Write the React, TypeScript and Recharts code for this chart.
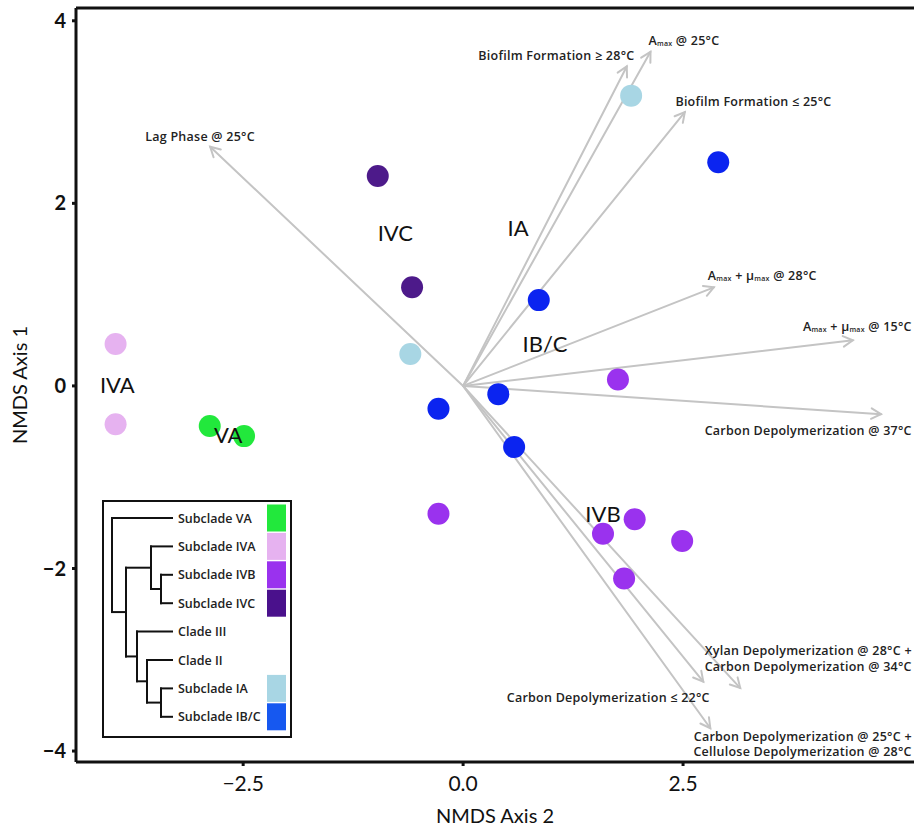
import React from "react";
import { ScatterChart, Scatter, XAxis, YAxis, ReferenceLine } from "recharts";

const W = 914;
const H = 827;
const FONT = "Lato, 'DejaVu Sans', sans-serif";
const LABEL_FONT = "'Open Sans', Lato, sans-serif";

// NMDS scores per subclade (x = NMDS axis 2, y = NMDS axis 1)
const subcladeVA = [{ x: -2.88, y: -0.44 }, { x: -2.49, y: -0.55 }];
const subcladeIVA = [{ x: -3.95, y: 0.46 }, { x: -3.95, y: -0.42 }];
const subcladeIVB = [
  { x: 1.76, y: 0.07 }, { x: -0.28, y: -1.4 }, { x: 1.95, y: -1.46 },
  { x: 1.59, y: -1.62 }, { x: 2.49, y: -1.7 }, { x: 1.83, y: -2.11 },
];
const subcladeIVC = [{ x: -0.97, y: 2.3 }, { x: -0.58, y: 1.08 }];
const subcladeIA = [{ x: 1.91, y: 3.18 }, { x: -0.6, y: 0.35 }];
const subcladeIBC = [
  { x: 2.9, y: 2.45 }, { x: 0.86, y: 0.94 }, { x: 0.4, y: -0.09 },
  { x: -0.28, y: -0.25 }, { x: 0.58, y: -0.67 },
];

// fitted trait vectors (tip coordinates)
const vectorX = [-2.875, 1.86, 2.13, 2.52, 2.85, 4.43, 4.75, 3.15, 2.73, 2.81];
const vectorY = [2.62, 3.5, 3.66, 3.0, 1.08, 0.5, -0.31, -3.31, -3.24, -3.75];

const vectorLabels = [
  { x: -2.99, y: 2.74, anchor: "middle", text: "Lag Phase @ 25°C" },
  { x: 1.06, y: 3.63, anchor: "middle", text: "Biofilm Formation ≥ 28°C" },
  { x: 2.51, y: 3.79, anchor: "middle", text: "A_{max} @ 25°C" },
  { x: 3.3, y: 3.12, anchor: "middle", text: "Biofilm Formation ≤ 25°C" },
  { x: 3.4, y: 1.22, anchor: "middle", text: "A_{max} + μ_{max} @ 28°C" },
  { x: 5.1, y: 0.66, anchor: "end", text: "A_{max} + μ_{max} @ 15°C" },
  { x: 5.1, y: -0.48, anchor: "end", text: "Carbon Depolymerization @ 37°C" },
  { x: 5.1, y: -2.98, anchor: "end", text: "Xylan Depolymerization @ 28°C +\nCarbon Depolymerization @ 34°C" },
  { x: 1.65, y: -3.41, anchor: "middle", text: "Carbon Depolymerization ≤ 22°C" },
  { x: 5.1, y: -3.92, anchor: "end", text: "Carbon Depolymerization @ 25°C +\nCellulose Depolymerization @ 28°C" },
];

const groupLabels = [
  { x: -3.93, y: 0.02, text: "IVA" },
  { x: -2.67, y: -0.53, text: "VA" },
  { x: -0.77, y: 1.68, text: "IVC" },
  { x: 0.625, y: 1.73, text: "IA" },
  { x: 0.93, y: 0.47, text: "IB/C" },
  { x: 1.59, y: -1.4, text: "IVB" },
];

const xTicks = [-2.5, 0, 2.5];
const yTicks = [-4, -2, 0, 2, 4];

// inset dendrogram
const leafNames = ["Subclade VA", "Subclade IVA", "Subclade IVB", "Subclade IVC", "Clade III", "Clade II", "Subclade IA", "Subclade IB/C"];
const leafColors = ["#22e83c", "#e6b2f0", "#9a32ee", "#4a118c", null, null, "#a8d6e4", "#1658f0"];
// merges: [left, right, height]; negative = leaf index (-(i+1)), positive = merge number (1-based)
const merges: [number, number, number][] = [
  [-3, -4, 11],
  [-2, 1, 21],
  [-7, -8, 11],
  [-6, 3, 25],
  [-5, 4, 35],
  [2, 5, 46],
  [-1, 6, 60],
];

const C = {
  VA: "#22e83c",
  IVA: "#e6b2f0",
  IVB: "#9a32ee",
  IVC: "#4d1a8a",
  IA: "#a8d6e4",
  IBC: "#0b24f0",
};

const Dot = (p: any) => <circle cx={p.cx} cy={p.cy} r={11} fill={p.fill} />;

const Arrow = (p: any) => {
  const { x1, y1, x2, y2 } = p;
  const a = Math.atan2(y2 - y1, x2 - x1);
  const L = 11;
  const s = 0.5;
  return (
    <g stroke="#c4c4c4" strokeWidth={2} fill="none" strokeLinecap="round">
      <line x1={x1} y1={y1} x2={x2} y2={y2} />
      <polyline
        points={`${x2 - L * Math.cos(a - s)},${y2 - L * Math.sin(a - s)} ${x2},${y2} ${x2 - L * Math.cos(a + s)},${y2 - L * Math.sin(a + s)}`}
      />
    </g>
  );
};

const renderRich = (line: string) => {
  const parts = line.split(/(_\{[^}]+\})/).filter(Boolean);
  let shifted = false;
  return parts.map((part, i) => {
    if (part.startsWith("_{")) {
      shifted = true;
      return (
        <tspan key={i} fontSize={7} dy={3}>
          {part.slice(2, -1)}
        </tspan>
      );
    }
    const dy = shifted ? -3 : undefined;
    shifted = false;
    return (
      <tspan key={i} dy={dy}>
        {part}
      </tspan>
    );
  });
};

const VectorLabel = (p: any) => {
  const d = p.payload;
  const lines = d.text.split("\n");
  const lh = 15.5;
  const y0 = p.cy - ((lines.length - 1) * lh) / 2;
  return (
    <g>
      {lines.map((ln: string, i: number) => (
        <text
          key={i}
          x={p.cx}
          y={y0 + i * lh}
          textAnchor={d.anchor}
          dominantBaseline="central"
          fontFamily={LABEL_FONT}
          fontSize={12.5}
          letterSpacing={0.25}
          fontWeight={600}
          fill="#222"
        >
          {renderRich(ln)}
        </text>
      ))}
    </g>
  );
};

const GroupLabel = (p: any) => (
  <text x={p.cx} y={p.cy} textAnchor="middle" dominantBaseline="central" fontFamily={FONT} fontSize={22} fill="#111">
    {p.payload.text}
  </text>
);

const fmt = (v: number) => (v < 0 ? "\u2212" + Math.abs(v) : String(v));
const fmtX = (v: number) => (v < 0 ? "\u2212" + Math.abs(v).toFixed(1) : v.toFixed(1));

function Dendrogram() {
  const left = 103, top = 501, bw = 188, bh = 236;
  const rowY = (i: number) => 518 + i * 28.4;
  const leafX = 172;
  const nodes: { x: number; y: number }[] = [];
  const segs: React.ReactNode[] = [];
  const pos = (id: number) => (id < 0 ? { x: leafX, y: rowY(-id - 1) } : nodes[id - 1]);
  merges.forEach(([a, b, h], k) => {
    const pa = pos(a);
    const pb = pos(b);
    const x = leafX - h;
    segs.push(<line key={`h1${k}`} x1={x} y1={pa.y} x2={pa.x} y2={pa.y} />);
    segs.push(<line key={`h2${k}`} x1={x} y1={pb.y} x2={pb.x} y2={pb.y} />);
    segs.push(<line key={`v${k}`} x1={x} y1={pa.y} x2={x} y2={pb.y} />);
    nodes.push({ x, y: (pa.y + pb.y) / 2 });
  });
  return (
    <svg width={W} height={H} style={{ position: "absolute", left: 0, top: 0, pointerEvents: "none" }}>
      <rect x={left} y={top} width={bw} height={bh} fill="#fff" stroke="#111" strokeWidth={2} />
      <g stroke="#111" strokeWidth={2} strokeLinecap="square">{segs}</g>
      {leafNames.map((n, i) => (
        <text key={n} x={178} y={rowY(i)} dominantBaseline="central" fontFamily={LABEL_FONT} fontSize={12.5} fontWeight={600} fill="#222">
          {n}
        </text>
      ))}
      {leafColors.map((c, i) =>
        c ? <rect key={i} x={267} y={rowY(i) - 13.5} width={19} height={27} fill={c} /> : null
      )}
    </svg>
  );
}

export default function App() {
  return (
    <div style={{ position: "fixed", left: 0, top: 0, width: W, height: H, overflow: "hidden", background: "#fff" }}>
      <ScatterChart width={W} height={H} margin={{ top: 8, right: 0, bottom: 0, left: 0 }}>
        <XAxis
          type="number"
          dataKey="x"
          domain={[-4.4, 5.125]}
          ticks={xTicks}
          tickFormatter={fmtX}
          allowDataOverflow
          height={65}
          stroke="#111"
          strokeWidth={3}
          tickSize={4}
          tickMargin={10}
          tick={{ fontSize: 21, fill: "#111", fontFamily: FONT }}
          label={{ value: "NMDS Axis 2", position: "insideBottom", offset: 4, fontSize: 20, fill: "#111", fontFamily: FONT }}
        />
        <YAxis
          type="number"
          dataKey="y"
          domain={[-4.12, 4.14]}
          ticks={yTicks}
          tickFormatter={fmt}
          allowDataOverflow
          width={76}
          stroke="#111"
          strokeWidth={3}
          tickSize={4}
          tickMargin={6}
          tick={{ fontSize: 20, fill: "#111", fontFamily: FONT, fontWeight: 700 }}
          label={{ value: "NMDS Axis 1", angle: -90, position: "insideLeft", offset: 20, fontSize: 20, fill: "#111", fontFamily: FONT, style: { textAnchor: "middle" } }}
        />
        <ReferenceLine y={4.14} stroke="#111" strokeWidth={3} ifOverflow="visible" />
        {vectorX.map((vx, i) => (
          <ReferenceLine
            key={i}
            segment={[{ x: 0, y: 0 }, { x: vx, y: vectorY[i] }]}
            ifOverflow="visible"
            shape={Arrow}
          />
        ))}
        <Scatter data={subcladeVA} fill={C.VA} shape={Dot} isAnimationActive={false} />
        <Scatter data={subcladeIVA} fill={C.IVA} shape={Dot} isAnimationActive={false} />
        <Scatter data={subcladeIVB} fill={C.IVB} shape={Dot} isAnimationActive={false} />
        <Scatter data={subcladeIVC} fill={C.IVC} shape={Dot} isAnimationActive={false} />
        <Scatter data={subcladeIA} fill={C.IA} shape={Dot} isAnimationActive={false} />
        <Scatter data={subcladeIBC} fill={C.IBC} shape={Dot} isAnimationActive={false} />
        <Scatter data={vectorLabels} shape={VectorLabel} isAnimationActive={false} />
        <Scatter data={groupLabels} shape={GroupLabel} isAnimationActive={false} />
      </ScatterChart>
      <Dendrogram />
    </div>
  );
}
